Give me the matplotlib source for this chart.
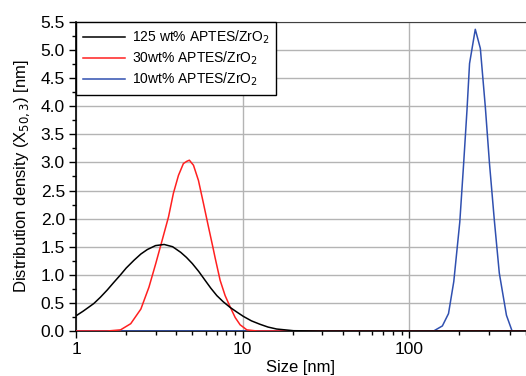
import numpy as np
import matplotlib.pyplot as plt
from matplotlib.ticker import LogLocator, MultipleLocator, FormatStrFormatter, NullFormatter

plt.rcParams['font.family'] = ['Liberation Sans', 'DejaVu Sans']

# 125 wt% APTES/ZrO2
size_125 = [1.0, 1.1, 1.2, 1.28, 1.4, 1.54, 1.68, 1.85, 2.0, 2.23, 2.45, 2.68, 3.0, 3.38, 3.8, 4.25, 4.6,
            4.99, 5.45, 5.96, 6.45, 7.0, 7.65, 8.41, 9.2, 10.1, 11.3, 12.7, 14.2, 16.0, 20.2, 30.0, 500.0]
dens_125 = [0.27, 0.35, 0.43, 0.49, 0.60, 0.73, 0.86, 1.00, 1.12, 1.26, 1.37, 1.45, 1.52, 1.54, 1.50, 1.40, 1.31,
            1.20, 1.06, 0.90, 0.76, 0.63, 0.52, 0.42, 0.34, 0.26, 0.18, 0.12, 0.07, 0.035, 0.005, 0.0, 0.0]

# 30 wt% APTES/ZrO2
size_30 = [1.0, 1.54, 1.85, 2.13, 2.45, 2.74, 3.01, 3.25, 3.59, 3.84, 4.12, 4.41, 4.62, 4.79, 5.07, 5.43,
           5.82, 6.24, 6.62, 6.84, 7.33, 7.85, 8.41, 9.02, 9.66, 10.6, 12.2, 500.0]
dens_30 = [0.0, 0.0, 0.02, 0.13, 0.39, 0.78, 1.20, 1.56, 2.03, 2.45, 2.77, 2.98, 3.02, 3.04, 2.95, 2.68,
           2.27, 1.85, 1.50, 1.30, 0.90, 0.63, 0.43, 0.24, 0.11, 0.02, 0.0, 0.0]

# 10 wt% APTES/ZrO2
size_10 = [1.0, 140, 158, 172, 185, 201, 212, 222, 230, 249, 267, 286, 303, 324, 347, 383, 414, 500]
dens_10 = [0.0, 0.0, 0.09, 0.31, 0.88, 1.94, 2.98, 3.93, 4.76, 5.37, 5.03, 3.99, 2.98, 1.97, 1.03, 0.28, 0.0, 0.0]

fig = plt.figure(figsize=(5.26, 3.76), dpi=100)
ax = fig.add_axes([0.1445, 0.1197, 0.855, 0.8218])

ax.plot(size_10, dens_10, color='#3050b0', lw=1.1, label='10wt% APTES/ZrO$_2$', zorder=3)
ax.plot(size_30, dens_30, color='#ff2020', lw=1.1, label='30wt% APTES/ZrO$_2$', zorder=4)
ax.plot(size_125, dens_125, color='black', lw=1.1, label='125 wt% APTES/ZrO$_2$', zorder=5)

ax.set_xscale('log')
ax.set_xlim(1, 500)
ax.set_ylim(0, 5.5)
ax.xaxis.set_major_locator(LogLocator(base=10))
ax.xaxis.set_minor_locator(LogLocator(base=10, subs=np.arange(2, 10)))
ax.xaxis.set_minor_formatter(NullFormatter())
ax.xaxis.set_major_formatter(FormatStrFormatter('%g'))
ax.yaxis.set_major_locator(MultipleLocator(0.5))
ax.yaxis.set_minor_locator(MultipleLocator(0.25))
ax.yaxis.set_major_formatter(FormatStrFormatter('%.1f'))

ax.grid(True, which='major', color='#b4b4b4', lw=1.0)
ax.tick_params(which='major', direction='out', length=5, width=1, labelsize=12.5, pad=3)
ax.tick_params(which='minor', direction='out', length=3, width=1)
ax.spines['right'].set_visible(False)
ax.spines['top'].set_color('#404040')
ax.spines['left'].set_linewidth(1.2)
ax.spines['bottom'].set_linewidth(1.2)

ax.set_xlabel('Size [nm]', fontsize=12, labelpad=2)
ax.set_ylabel('Distribution density (X$_{50,3}$) [nm]', fontsize=12, labelpad=6)

handles, labels = ax.get_legend_handles_labels()
leg = ax.legend(handles[::-1], labels[::-1], loc='upper left', fontsize=10,
                fancybox=False, edgecolor='black', framealpha=1,
                borderaxespad=0, handlelength=3, labelspacing=0.25,
                borderpad=0.5, handletextpad=0.5)
leg.get_frame().set_linewidth(1.0)

fig.savefig('out.png', dpi=100)
